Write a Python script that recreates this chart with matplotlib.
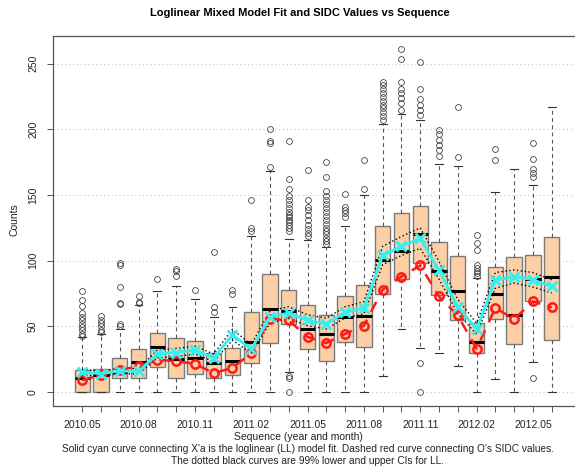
import matplotlib
matplotlib.use("Agg")
import matplotlib.pyplot as plt

plt.rcParams["font.family"] = ["Liberation Sans", "DejaVu Sans"]

# Months in the sequence
months = ["2010.05", "2010.06", "2010.07", "2010.08", "2010.09", "2010.10",
          "2010.11", "2010.12", "2011.01", "2011.02", "2011.03", "2011.04",
          "2011.05", "2011.06", "2011.07", "2011.08", "2011.09", "2011.10",
          "2011.11", "2011.12", "2012.01", "2012.02", "2012.03", "2012.04",
          "2012.05", "2012.06"]

# Box-plot summaries of daily counts per month
q1 = [0, 0, 10.7, 10.7, 19, 10.7, 13.7, 10.7, 13.2, 22, 37.3, 52, 32.7,
      23.8, 37.8, 34, 74.8, 86, 98, 74, 55, 29.7, 55.8, 36.8, 69.5, 39.8]
med = [11, 12.7, 15, 23, 34, 25, 26, 22, 24, 37.8, 63, 61.4, 48,
       44, 57, 58, 100.7, 107.8, 120.2, 92.3, 77.2, 38.3, 74.6, 58.8, 86, 88]
q3 = [16.7, 17.5, 26, 33, 45, 41, 39, 29.5, 33.5, 60.7, 89.8, 77.4, 66.4,
      58.3, 73.5, 81.7, 126.8, 136.2, 141.8, 114.6, 103.7, 52.5, 95.6, 102.7,
      104.5, 117.9]
whisker_lo = [0, 0, 0, 0, 0, 0, 0, 0, 0, 0, 0, 15, 0,
              0, 0, 0, 12, 48, 33.5, 30, 20, 0, 10, 0, 22.8, 0]
whisker_hi = [42, 44.5, 48, 66, 77, 81, 71, 57, 65, 118.5, 168, 116.7, 116,
              110.8, 126.8, 150, 204, 212, 207, 174, 172, 86.7, 152.7, 169.7,
              158, 216.8]
outliers = [
    [43, 44.5, 47, 49.5, 52, 54.5, 57, 60.5, 65.5, 70, 77],
    [45.5, 47.5, 50, 52.5, 55, 58],
    [50, 51.5, 67, 68, 80, 96.5, 98],
    [67.5, 68.5, 73],
    [86],
    [88.5, 92, 93.5],
    [78],
    [61, 64.5, 107],
    [74.5, 77.5],
    [122.5, 124.8, 146],
    [171.5, 190, 191.5, 200],
    [0, 10.7, 12, 123, 125, 127, 129.5, 131, 133, 135, 137.5, 140, 143,
     146.3, 149.4, 155, 162, 191.5],
    [119, 121.5, 124, 127, 131, 135, 138.5, 141, 146, 169],
    [112.5, 115, 117.5, 120, 122.5, 125, 128, 131, 134, 137, 140, 143, 146,
     149, 153.5, 164, 175],
    [133.5, 136, 138.5, 141, 151],
    [155, 177],
    [207, 210, 213, 216, 219, 222, 225, 228, 231, 234, 236],
    [215, 220, 224, 228, 231, 236, 254, 261],
    [0, 22, 211, 215, 219, 223, 231, 251],
    [180, 184, 188, 192, 196.5, 199.6],
    [178.8, 217],
    [88.5, 90.5, 92.5, 94.5, 97, 108, 113.5, 119.5],
    [177, 185],
    [],
    [10.7, 164, 167, 170, 177.3, 190],
    [],
]

# Loglinear (LL) model fit with 99% lower / upper confidence limits
ll_fit = [15, 14, 16, 15.7, 29, 30, 32, 26, 43.5, 32.7, 57, 60.3, 54.5,
          52, 60.6, 64, 104, 111, 117, 92.6, 65, 48, 85, 88, 85.5, 80.4]
ll_lower = [13, 12.2, 14, 13.8, 26, 27, 29, 23.2, 39.5, 29.5, 52.5, 56, 50.5,
            48, 56.5, 59.5, 97, 104, 109.5, 86, 60, 44, 79, 83, 80, 75.5]
ll_upper = [17.2, 16, 18.2, 17.8, 32, 33.2, 35, 29, 47.8, 36.2, 61.8, 65, 58.8,
            56.2, 65, 68.8, 111, 118.5, 125, 99.5, 70.5, 52.5, 91, 93, 91, 85.5]

# SIDC monthly values
sidc = [9, 13, 17, 19.5, 24.6, 23.5, 21.5, 14.5, 18.3, 29.7, 56, 54.5, 42,
        37.3, 44.3, 50.5, 78, 88, 96.4, 72.8, 58.3, 33, 64, 55.5, 69, 64.4]

W, H = 575, 466
fig = plt.figure(figsize=(W / 100, H / 100), dpi=100)
ax = fig.add_axes([53.3 / W, (H - 405.7) / H, (580.6 - 53.3) / W,
                   (405.7 - 35.7) / H])

pos = list(range(1, len(months) + 1))

# Horizontal reference grid
for g in range(0, 251, 50):
    ax.axhline(g, color="#c8c8c8", lw=0.8, ls=(0, (1, 2.5)), zorder=0)

stats = []
for i in range(len(months)):
    stats.append(dict(med=med[i], q1=q1[i], q3=q3[i],
                      whislo=whisker_lo[i], whishi=whisker_hi[i],
                      fliers=outliers[i]))

ax.bxp(stats, positions=pos, widths=0.82, patch_artist=True,
       boxprops=dict(facecolor="#fccfa6", edgecolor="#7a7a7a", lw=1.0),
       medianprops=dict(color="black", lw=2.2),
       whiskerprops=dict(color="#555555", lw=0.8, ls=(0, (3.5, 3))),
       capprops=dict(color="#333333", lw=0.8),
       capwidths=0.41,
       flierprops=dict(marker="o", markersize=4.2, markerfacecolor="none",
                       markeredgecolor="#444444", markeredgewidth=0.6),
       manage_ticks=False, zorder=2)

# 99% confidence curves
ax.plot(pos, ll_lower, color="black", lw=1.0, ls=(0, (1, 1.8)), zorder=3)
ax.plot(pos, ll_upper, color="black", lw=1.0, ls=(0, (1, 1.8)), zorder=3)

# SIDC values: dashed red through open circles
ax.plot(pos, sidc, color="#ff1a1a", lw=1.8, ls=(0, (4.5, 3.5)), zorder=4)
ax.plot(pos, sidc, ls="none", marker="o", markersize=6, markerfacecolor="none",
        markeredgecolor="#ff1a1a", markeredgewidth=1.8, zorder=4)

# Loglinear fit: solid cyan through x marks
ax.plot(pos, ll_fit, color="#33f0f0", lw=2.0, marker="x", markersize=7,
        markeredgewidth=2.0, zorder=5)

ax.set_xlim(-0.54, 27.54)
ax.set_ylim(-10.4, 271.4)

ax.set_xticks(pos)
ax.set_xticklabels([m if i % 3 == 0 else "" for i, m in enumerate(months)],
                   fontsize=7.5)
ax.set_yticks(range(0, 251, 50))
ax.set_yticklabels([str(v) for v in range(0, 251, 50)], fontsize=7.5,
                   rotation=90, va="center")
ax.tick_params(axis="both", length=4, width=0.7, color="#555555",
               labelcolor="#222222")
ax.tick_params(axis="x", pad=6)
ax.tick_params(axis="y", pad=7)

for s in ax.spines.values():
    s.set_color("#555555")
    s.set_linewidth(0.9)

fig.text(14 / W, 1 - 220 / H, "Counts", rotation=90, ha="center",
         va="center", fontsize=7.5, color="#222222")
fig.text(300 / W, 1 - 13 / H,
         "Loglinear Mixed Model Fit and SIDC Values vs Sequence",
         ha="center", va="center", fontsize=8.0, fontweight="bold")
fig.text(298 / W, 1 - 437 / H, "Sequence (year and month)", ha="center",
         va="center", fontsize=7.5, color="#222222")
fig.text(308 / W, 1 - 449 / H,
         "Solid cyan curve connecting X'a is the loglinear (LL) model fit. "
         "Dashed red curve connecting O's SIDC values.",
         ha="center", va="center", fontsize=7.3, color="#222222")
fig.text(308 / W, 1 - 461 / H,
         "The dotted black curves are 99% lower and upper CIs for LL.",
         ha="center", va="center", fontsize=7.3, color="#222222")

fig.savefig("out.png", dpi=100)
